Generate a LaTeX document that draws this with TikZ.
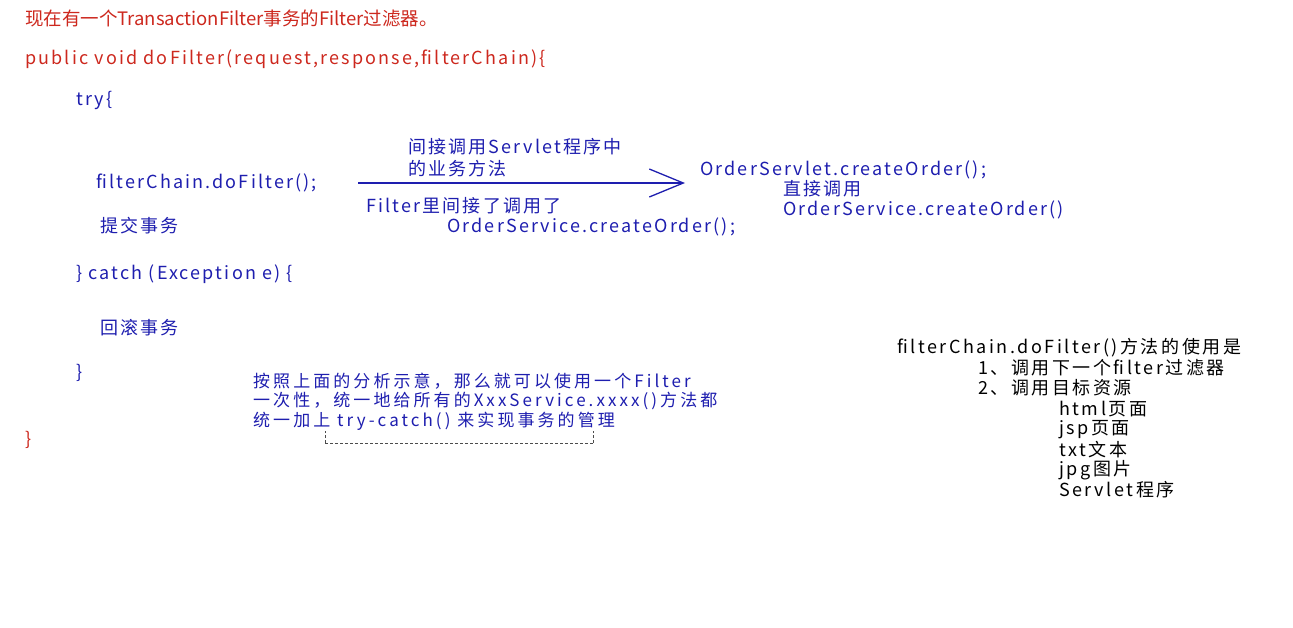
\documentclass[tikz,border=0pt]{standalone}
\usepackage{fontspec}
\setmainfont{Noto Sans CJK SC}
\newfontfamily\codefont{Noto Sans CJK SC}[LetterSpace=12]
\newfontfamily\notefont{Noto Sans CJK SC}[LetterSpace=18]
\newfontfamily\usagefont{Noto Sans CJK SC}[LetterSpace=14]
\usepackage{xcolor}
\usetikzlibrary{arrows.meta,positioning}
\definecolor{codered}{RGB}{205, 40, 30}
\definecolor{codeblue}{RGB}{30, 30, 175}

\begin{document}
\begin{tikzpicture}[x=1pt, y=-1pt,
    every node/.style={inner sep=0pt, anchor=west},
    titleline/.style={text=codered, font=\fontsize{18.5}{20}\selectfont},
    redline/.style={text=codered, font=\codefont\fontsize{18}{20}\selectfont},
    codeline/.style={text=codeblue, font=\codefont\fontsize{18}{20}\selectfont},
    noteline/.style={text=codeblue, font=\notefont\fontsize{17}{20}\selectfont},
    usageline/.style={text=black, font=\usagefont\fontsize{18}{20}\selectfont}]
    \useasboundingbox[fill=white] (0,0) rectangle (1293,627);

    % Method header
    \node[titleline] (title) at (25, 18) {现在有一个TransactionFilter事务的Filter过滤器。};
    \node[redline] (header) at (25, 59) {public void doFilter(request,response,filterChain)\{};
    \node[codeline] (try) at (76, 100) {try\{};
    \node[codeline] (chain) at (96, 183) {filterChain.doFilter();};
    \node[codeline] (commit) at (100, 226) {提交事务};
    \node[codeline] (catch) at (76, 274) {\} catch (Exception e) \{};
    \node[codeline] (rollback) at (100, 328) {回滚事务};
    \node[codeline] (tryend) at (76, 373) {\}};
    \node[redline] (methodend) at (25, 440) {\}};

    % Call chain
    \node[codeline] (servlet) at (700, 170) {OrderServlet.createOrder();};
    \node[codeline] (direct) at (783, 189) {直接调用};
    \node[codeline] (service) at (783, 210) {OrderService.createOrder()};
    \node[codeline] (indirect1) at (408, 147) {间接调用Servlet程序中};
    \node[codeline] (indirect2) at (408, 169) {的业务方法};
    \node[codeline] (infilter) at (366, 206) {Filter里间接了调用了};
    \node[codeline] (inservice) at (447, 227) {OrderService.createOrder();};

    % Arrow
    \draw[-{Straight Barb[length=34pt, width=28pt]}, codeblue, line width=1.3pt,
          shorten <=41pt, shorten >=15pt] (chain.east) -- (chain.east -| servlet.west);

    % Summary note
    \node[noteline] (note1) at (253, 381) {按照上面的分析示意，那么就可以使用一个Filter};
    \node[noteline] (note2) at (253, 401) {一次性，统一地给所有的XxxService.xxxx()方法都};
    \node[noteline] (note3) at (253, 421) {统一加上 try-catch() 来实现事务的管理};
    \coordinate (selA) at (325, 443);
    \coordinate (selB) at (593, 443);
    \draw[densely dashed, black!70] (selA) -- (selB);
    \draw[densely dashed, black!70] (selA) -- ++(0,-12);
    \draw[densely dashed, black!70] (selB) -- ++(0,-12);

    % Usage of doFilter
    \node[usageline] (usage) at (897, 348) {filterChain.doFilter()方法的使用是};
    \node[usageline] (use1) at (978, 368) {1、调用下一个filter过滤器};
    \node[usageline] (use2) at (978, 388) {2、调用目标资源};
    \node[usageline] (res1) at (1059, 409) {html页面};
    \node[usageline] (res2) at (1059, 430) {jsp页面};
    \node[usageline] (res3) at (1059, 450) {txt文本};
    \node[usageline] (res4) at (1059, 470) {jpg图片};
    \node[usageline] (res5) at (1059, 490) {Servlet程序};
\end{tikzpicture}
\end{document}
